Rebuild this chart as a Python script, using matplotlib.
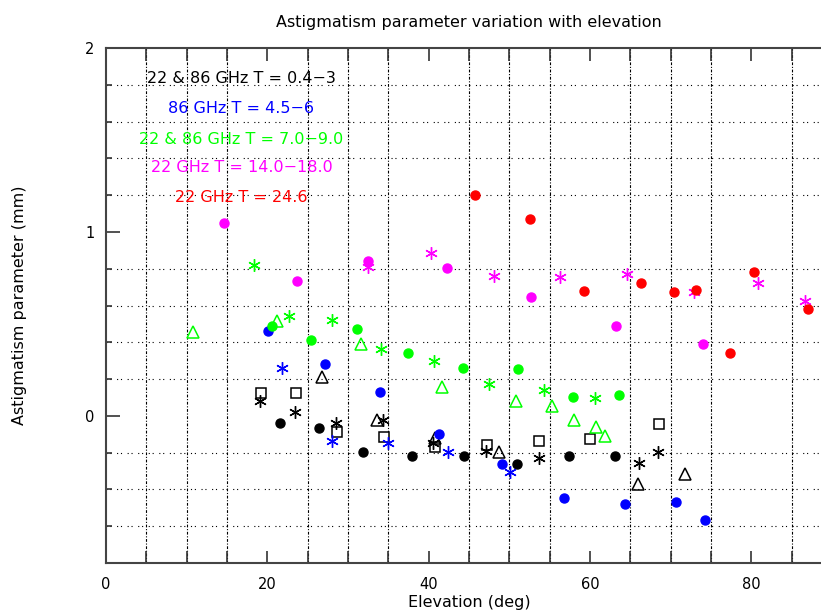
import matplotlib
matplotlib.use("Agg")
import matplotlib.pyplot as plt
import numpy as np

# Data (elevation in deg, astigmatism parameter in mm)
# 22 & 86 GHz, T = 0.4-3 (black)
blk_dot_x = [21.6, 26.4, 31.9, 38.0, 44.4, 51.0, 57.4, 63.1]
blk_dot_y = [-0.036, -0.067, -0.194, -0.219, -0.219, -0.259, -0.219, -0.217]
blk_sq_x = [19.2, 23.6, 28.7, 34.5, 40.8, 47.2, 53.7, 60.0, 68.5]
blk_sq_y = [0.123, 0.123, -0.089, -0.116, -0.167, -0.156, -0.138, -0.127, -0.045]
blk_ast_x = [19.1, 23.5, 28.5, 34.3, 40.6, 47.1, 53.7, 66.1, 68.4]
blk_ast_y = [0.083, 0.020, -0.036, -0.025, -0.150, -0.189, -0.230, -0.257, -0.196]
blk_tri_x = [26.8, 33.6, 40.8, 48.7, 65.9, 71.8]
blk_tri_y = [0.214, -0.022, -0.120, -0.199, -0.370, -0.315]

# 86 GHz, T = 4.5-6 (blue)
blu_dot_x = [20.1, 27.2, 34.0, 41.3, 49.1, 56.8, 64.3, 70.7, 74.2]
blu_dot_y = [0.464, 0.283, 0.130, -0.098, -0.259, -0.447, -0.478, -0.469, -0.567]
blu_ast_x = [21.8, 28.0, 35.0, 42.4, 50.1]
blu_ast_y = [0.263, -0.136, -0.149, -0.197, -0.306]

# 22 & 86 GHz, T = 7.0-9.0 (green)
grn_dot_x = [20.55, 25.4, 31.1, 37.5, 44.2, 51.1, 57.85, 63.6]
grn_dot_y = [0.491, 0.411, 0.473, 0.342, 0.263, 0.254, 0.100, 0.114]
grn_ast_x = [18.4, 22.7, 28.07, 34.06, 40.7, 47.45, 54.3, 60.6]
grn_ast_y = [0.821, 0.542, 0.522, 0.362, 0.301, 0.174, 0.141, 0.095]
grn_tri_x = [10.77, 21.17, 31.6, 41.6, 50.8, 55.3, 58.05, 60.8, 61.9]
grn_tri_y = [0.458, 0.518, 0.390, 0.156, 0.080, 0.056, -0.025, -0.063, -0.112]

# 22 GHz, T = 14.0-18.0 (magenta)
mag_dot_x = [14.64, 23.65, 32.45, 42.3, 52.65, 63.2, 74.0]
mag_dot_y = [1.051, 0.732, 0.842, 0.804, 0.645, 0.491, 0.390]
mag_ast_x = [32.5, 40.26, 48.1, 56.3, 64.6, 72.9, 80.8, 86.7]
mag_ast_y = [0.808, 0.884, 0.763, 0.754, 0.773, 0.674, 0.721, 0.625]

# 22 GHz, T = 24.6 (red)
red_dot_x = [45.75, 52.5, 59.3, 66.3, 70.4, 73.1, 77.4, 80.3, 87.0]
red_dot_y = [1.201, 1.072, 0.681, 0.725, 0.674, 0.683, 0.341, 0.781, 0.580]

labels = ["22 & 86 GHz T = 0.4\u22123", "86 GHz T = 4.5\u22126",
          "22 & 86 GHz T = 7.0\u22129.0", "22 GHz T = 14.0\u221218.0",
          "22 GHz T = 24.6"]
label_y = [1.835, 1.672, 1.505, 1.348, 1.185]

BLK, BLU, GRN, MAG, RED = "black", "#0000ff", "#00ff00", "#ff00ff", "#ff0000"
colors = [BLK, BLU, GRN, MAG, RED]

fig = plt.figure(figsize=(8.21, 6.10), dpi=100)
# right spine sits just outside the picture, like the original
ax = fig.add_axes([0.1289, 0.077, 90 * 8.07 / 821, 0.8443])

ast = (6, 2, 0)  # asterisk marker

def dots(x, y, c):
    ax.plot(x, y, "o", color=c, ms=6.5, mec=c, ls="none", zorder=3)

def stars(x, y, c):
    ax.plot(x, y, marker=ast, color=c, ms=9, mew=1.0, ls="none", zorder=3)

def squares(x, y, c):
    ax.plot(x, y, "s", mfc="white", mec=c, ms=6.5, mew=1.1, ls="none", zorder=3)

def tris(x, y, c):
    ax.plot(x, y, "^", mfc="none", mec=c, ms=8, mew=1.1, ls="none", zorder=3)

squares(blk_sq_x, blk_sq_y, BLK)
tris(blk_tri_x, blk_tri_y, BLK)
stars(blk_ast_x, blk_ast_y, BLK)
dots(blk_dot_x, blk_dot_y, BLK)

dots(blu_dot_x, blu_dot_y, BLU)
stars(blu_ast_x, blu_ast_y, BLU)

tris(grn_tri_x, grn_tri_y, GRN)
stars(grn_ast_x, grn_ast_y, GRN)
dots(grn_dot_x, grn_dot_y, GRN)

dots(mag_dot_x, mag_dot_y, MAG)
stars(mag_ast_x, mag_ast_y, MAG)

dots(red_dot_x, red_dot_y, RED)

for txt, yy, c in zip(labels, label_y, colors):
    ax.text(16.8, yy, txt, color=c, fontsize=11.5, ha="center", va="center")

ax.set_xlim(0, 90)
ax.set_ylim(-0.8, 2)

ax.set_xticks([0, 20, 40, 60, 80])
ax.set_xticks(np.arange(0, 91, 5), minor=True)
ax.set_yticks([0, 1, 2])
ax.set_yticks(np.arange(-0.8, 2.01, 0.2), minor=True)

ax.tick_params(which="both", direction="in", top=True, right=False,
               labelsize=10.5, width=1.2, color="#333333")
ax.tick_params(axis="x", which="both", length=9, pad=10)
ax.tick_params(axis="y", which="major", length=10, pad=8)
ax.tick_params(axis="y", which="minor", length=4)

ax.grid(axis="x", which="minor", color="black", lw=0.8,
        linestyle=(0, (2.5, 1.5, 1, 1.5)))
ax.grid(axis="y", which="minor", color="black", lw=0.8,
        linestyle=(0, (1, 2.5, 1, 5)))
ax.set_axisbelow(True)

for side in ["left", "bottom", "top", "right"]:
    ax.spines[side].set_color("#444444")
    ax.spines[side].set_linewidth(1.5)

ax.set_title("Astigmatism parameter variation with elevation", fontsize=11.5, pad=15)
ax.set_xlabel("Elevation (deg)", fontsize=11.5, labelpad=2)
ax.set_ylabel("Astigmatism parameter (mm)", fontsize=11.5, labelpad=42)

fig.savefig("out.png", dpi=100)
